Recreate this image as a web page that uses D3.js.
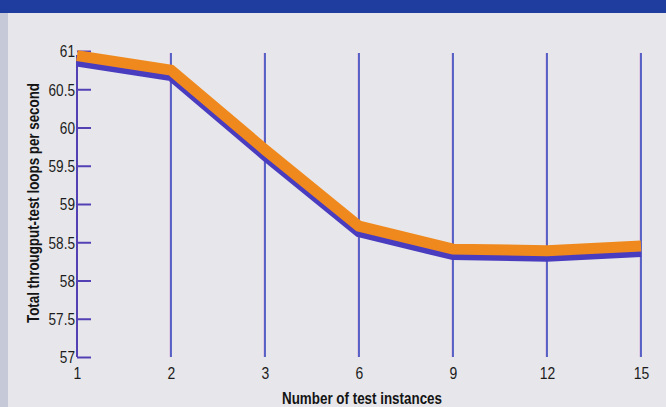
<!DOCTYPE html>
<html>
<head>
<meta charset="utf-8">
<script src="https://cdn.jsdelivr.net/npm/d3@7"></script>
<style>
  html, body { margin: 0; padding: 0; background: #e7e7eb; }
  svg { display: block; }
</style>
</head>
<body>
<svg id="chart" width="666" height="407"></svg>
<script>
// Throughput as more test instances run side by side
const instances = ["1", "2", "3", "6", "9", "12", "15"];
const loopsPerSecond = [60.94, 60.75, 59.71, 58.71, 58.41, 58.39, 58.45];
const yTicks = [57, 57.5, 58, 58.5, 59, 59.5, 60, 60.5, 61];
const yTitle = "Total througput-test loops per second";
const xTitle = "Number of test instances";

const W = 666, H = 407;
const svg = d3.select("#chart");
const fontStack = "'Liberation Sans Narrow', 'Liberation Sans', Arial, sans-serif";

// condensed look: squeeze each label to a share of its natural width
function condense(sel, factor) {
  sel.each(function () {
    const w = this.getComputedTextLength();
    d3.select(this).attr("textLength", w * factor).attr("lengthAdjust", "spacingAndGlyphs");
  });
}

// page background, header band and darker left edge
svg.append("rect").attr("width", W).attr("height", H).attr("fill", "#e7e7eb");
svg.append("rect").attr("x", 0).attr("y", 0).attr("width", 8).attr("height", H).attr("fill", "#c6c9d7");
svg.append("rect").attr("x", 0).attr("y", 0).attr("width", W).attr("height", 13).attr("fill", "#1e3d9e");

const x = d3.scalePoint().domain(instances).range([77, 641]);
const y = d3.scaleLinear().domain([57, 61]).range([357, 51]);

const gridColor = "#2d3bbb";
const axisColor = "#5340b4";

// vertical grid lines at every category after the first
const grid = svg.append("g");
instances.slice(1).forEach(c => {
  grid.append("line")
    .attr("x1", x(c) - 1).attr("x2", x(c) - 1)
    .attr("y1", y(61) + 2).attr("y2", y(57))
    .attr("stroke", "#c86ac8").attr("stroke-opacity", 0.4).attr("stroke-width", 1);
  grid.append("line")
    .attr("x1", x(c)).attr("x2", x(c))
    .attr("y1", y(61) + 2).attr("y2", y(57))
    .attr("stroke", gridColor).attr("stroke-width", 1.5);
});

// y axis with inward ticks
const yAxis = d3.axisRight(y).tickValues(yTicks).tickSize(14).tickFormat(d3.format("~g"));
const gy = svg.append("g").attr("transform", `translate(${x(instances[0])},0)`).call(yAxis);
gy.select(".domain").remove();
gy.selectAll(".tick line").attr("stroke", axisColor).attr("stroke-width", 2);
gy.selectAll(".tick text")
  .attr("x", -2).attr("text-anchor", "end").attr("dy", "0.34em")
  .attr("fill", "#1c1c1c").style("font-family", fontStack)
  .style("font-size", "17px")
  .call(condense, 0.8);
svg.append("line")
  .attr("x1", x(instances[0])).attr("x2", x(instances[0]))
  .attr("y1", y(61) + 4).attr("y2", y(57))
  .attr("stroke", axisColor).attr("stroke-width", 2);

// x axis labels only
const xAxis = d3.axisBottom(x).tickSize(0).tickPadding(0);
const gx = svg.append("g").attr("transform", `translate(0,${y(57) + 17})`).call(xAxis);
gx.select(".domain").remove();
gx.selectAll(".tick text")
  .attr("dy", "0.32em").attr("fill", "#1c1c1c")
  .style("font-family", fontStack)
  .style("font-size", "17px")
  .call(condense, 0.82);

// the data line with its offset blue shadow
const line = d3.line().x((d, i) => x(instances[i])).y(d => y(d));
svg.append("path").datum(loopsPerSecond)
  .attr("d", line).attr("transform", "translate(0,5.5)")
  .attr("fill", "none").attr("stroke", "#4a3cbf").attr("stroke-width", 11)
  .attr("stroke-linejoin", "miter").attr("stroke-linecap", "butt");
svg.append("path").datum(loopsPerSecond)
  .attr("d", line)
  .attr("fill", "none").attr("stroke", "#f0891d").attr("stroke-width", 11)
  .attr("stroke-linejoin", "miter").attr("stroke-linecap", "butt");

// axis titles
svg.append("text")
  .attr("transform", "translate(38.5,203) rotate(-90)")
  .attr("text-anchor", "middle")
  .attr("textLength", 240).attr("lengthAdjust", "spacingAndGlyphs")
  .attr("fill", "#141414")
  .style("font-family", fontStack)
  .style("font-weight", "bold").style("font-size", "16px")
  .text(yTitle);
svg.append("text")
  .attr("x", 362).attr("y", 404)
  .attr("text-anchor", "middle")
  .attr("textLength", 160).attr("lengthAdjust", "spacingAndGlyphs")
  .attr("fill", "#141414")
  .style("font-family", fontStack)
  .style("font-weight", "bold").style("font-size", "16px")
  .text(xTitle);
</script>
</body>
</html>
